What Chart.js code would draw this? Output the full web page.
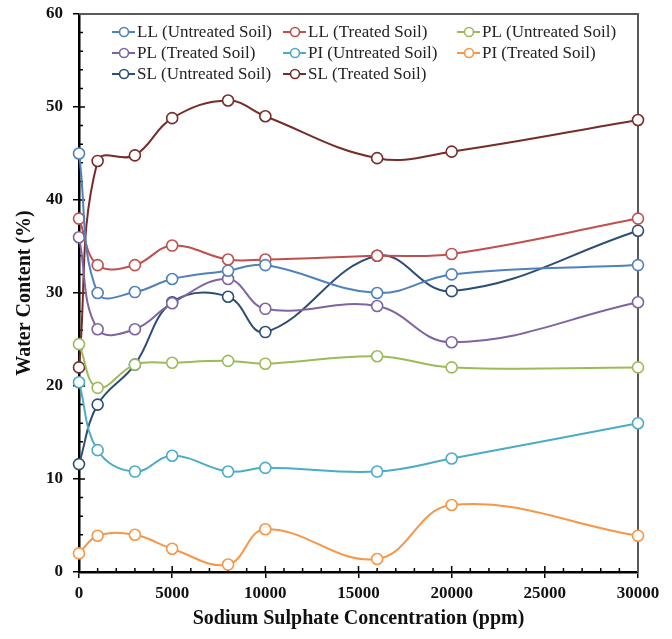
<!DOCTYPE html>
<html>
<head>
<meta charset="utf-8">
<script src="https://cdn.jsdelivr.net/npm/chart.js@4/dist/chart.umd.min.js"></script>
<style>
  html, body { margin: 0; padding: 0; background: #fff; }
  #wrap { width: 672px; height: 639px; }
</style>
</head>
<body>
<div id="wrap"><canvas id="chart" width="672" height="639"></canvas></div>
<script>
// concentrations (ppm)
const concentrations = [0, 1000, 3000, 5000, 8000, 10000, 16000, 20000, 30000];

const seriesNames = [
  'LL (Untreated Soil)', 'LL (Treated Soil)', 'PL (Untreated Soil)',
  'PL (Treated Soil)', 'PI (Untreated Soil)', 'PI (Treated Soil)',
  'SL (Untreated Soil)', 'SL (Treated Soil)'
];

const llUntreated = [45, 30, 30.1, 31.5, 32.4, 33, 30, 32, 33];
const llTreated   = [38, 33, 33, 35.1, 33.6, 33.6, 34, 34.2, 38];
const plUntreated = [24.5, 19.8, 22.3, 22.5, 22.7, 22.4, 23.2, 22, 22];
const plTreated   = [36, 26.1, 26.1, 28.9, 31.5, 28.3, 28.6, 24.7, 29];
const piUntreated = [20.4, 13.1, 10.8, 12.5, 10.8, 11.2, 10.8, 12.2, 16];
const piTreated   = [2, 3.9, 4, 2.5, 0.8, 4.6, 1.4, 7.2, 3.9];
const slUntreated = [11.6, 18, 22.3, 29, 29.6, 25.8, 34, 30.2, 36.7];
const slTreated   = [22, 44.2, 44.8, 48.8, 50.7, 49, 44.5, 45.2, 48.6];

const seriesValues = [llUntreated, llTreated, plUntreated, plTreated,
  piUntreated, piTreated, slUntreated, slTreated];

const seriesColors = ['#4f81bd', '#c0504d', '#9bbb59', '#8064a2',
  '#4bacc6', '#f79646', '#2c4d75', '#772c2a'];

const xTicks = [0, 5000, 10000, 15000, 20000, 25000, 30000];
const yTicks = [0, 10, 20, 30, 40, 50, 60];

const serif = '"Liberation Serif", "Times New Roman", serif';

const datasets = seriesNames.map((name, i) => ({
  label: name,
  data: concentrations.map((x, j) => ({x: x, y: seriesValues[i][j]})),
  borderColor: seriesColors[i],
  backgroundColor: '#ffffff',
  borderWidth: 2,
  pointRadius: 5.5,
  pointBorderWidth: 1.6,
  pointBackgroundColor: '#ffffff',
  pointBorderColor: seriesColors[i],
  tension: 0.4,
  clip: false
}));

// frame, minor ticks and the in-plot legend
const decorations = {
  id: 'decorations',
  beforeDatasetsDraw(chart) {
    const ctx = chart.ctx, a = chart.chartArea;
    const xs = chart.scales.x, ys = chart.scales.y;
    ctx.save();
    ctx.strokeStyle = '#595959';
    ctx.lineWidth = 2;
    ctx.beginPath();
    ctx.moveTo(a.left, a.top);
    ctx.lineTo(a.right, a.top);
    ctx.lineTo(a.right, a.bottom);
    ctx.stroke();
    ctx.strokeStyle = '#000';
    ctx.lineWidth = 1.5;
    ctx.beginPath();
    for (let v = 1000; v < 30000; v += 1000) {
      const px = xs.getPixelForValue(v);
      const len = v % 5000 === 0 ? 6 : 4;
      ctx.moveTo(px, a.bottom);
      ctx.lineTo(px, a.bottom - len);
    }
    for (let v = 2; v < 60; v += 2) {
      const py = ys.getPixelForValue(v);
      const len = v % 10 === 0 ? 6 : 4;
      ctx.moveTo(a.left, py);
      ctx.lineTo(a.left + len, py);
    }
    ctx.stroke();
    ctx.restore();
  },
  afterDraw(chart) {
    const ctx = chart.ctx;
    const cols = [112, 283, 457];
    const rows = [32, 53, 74];
    ctx.save();
    ctx.font = '17px ' + serif;
    ctx.textBaseline = 'middle';
    chart.data.datasets.forEach((ds, i) => {
      const x = cols[i % 3], y = rows[Math.floor(i / 3)];
      ctx.strokeStyle = ds.borderColor;
      ctx.lineWidth = 2;
      ctx.beginPath();
      ctx.moveTo(x, y);
      ctx.lineTo(x + 23, y);
      ctx.stroke();
      ctx.beginPath();
      ctx.arc(x + 12, y, 4.5, 0, Math.PI * 2);
      ctx.fillStyle = '#fff';
      ctx.fill();
      ctx.lineWidth = 1.6;
      ctx.stroke();
      ctx.fillStyle = '#222';
      ctx.fillText(ds.label, x + 25, y + 1);
    });
    ctx.restore();
  }
};

new Chart(document.getElementById('chart'), {
  type: 'line',
  data: {datasets: datasets},
  plugins: [decorations],
  options: {
    responsive: false,
    animation: false,
    layout: {padding: {left: 13, right: 34, top: 14, bottom: 8}},
    plugins: {legend: {display: false}, tooltip: {enabled: false}},
    scales: {
      x: {
        type: 'linear',
        min: 0, max: 30000,
        afterBuildTicks: axis => { axis.ticks = xTicks.map(v => ({value: v})); },
        afterFit: axis => { axis.height = 639 - 572 - 8; axis.paddingLeft = 0; axis.paddingRight = 0; },
        grid: {drawOnChartArea: false, tickLength: 6, color: '#000', lineWidth: 1.5},
        border: {color: '#000', width: 2.5},
        ticks: {color: '#111', font: {family: serif, size: 17, weight: 'bold'}, padding: 5,
          maxRotation: 0, callback: v => String(v)},
        title: {display: true, text: 'Sodium Sulphate Concentration (ppm)',
          color: '#111', font: {family: serif, size: 20, weight: 'bold'}, padding: 0}
      },
      y: {
        min: 0, max: 60,
        afterBuildTicks: axis => { axis.ticks = yTicks.map(v => ({value: v})); },
        afterFit: axis => { axis.width = 79 - 13; axis.paddingTop = 0; axis.paddingBottom = 0; },
        grid: {drawOnChartArea: false, tickLength: 6, color: '#000', lineWidth: 1.5},
        border: {color: '#000', width: 2.5},
        ticks: {color: '#111', font: {family: serif, size: 17, weight: 'bold'}, padding: 10,
          callback: v => String(v)},
        title: {display: true, text: 'Water Content (%)',
          color: '#111', font: {family: serif, size: 20, weight: 'bold'}, padding: 0}
      }
    }
  }
});
</script>
</body>
</html>
